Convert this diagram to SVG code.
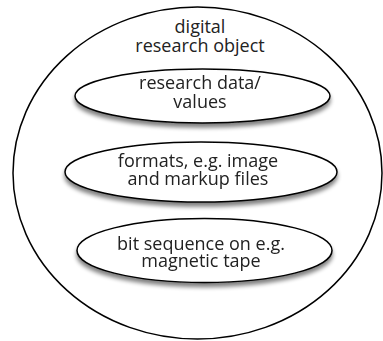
<svg xmlns="http://www.w3.org/2000/svg" width="383" height="341" viewBox="0 0 383 341">
<defs>
<filter id="sh" x="-10%" y="-20%" width="120%" height="160%">
<feGaussianBlur in="SourceAlpha" stdDeviation="2"/>
<feOffset dx="0" dy="4" result="b"/>
<feComponentTransfer><feFuncA type="linear" slope="0.5"/></feComponentTransfer>
<feMerge><feMergeNode/><feMergeNode in="SourceGraphic"/></feMerge>
</filter>
<style>
.e{fill:#fff;stroke:#000;stroke-width:1.5}
.t{font-family:"Open Sans","Liberation Sans",sans-serif;font-size:18px;fill:#222;text-anchor:middle}
</style>
</defs>
<rect width="383" height="341" fill="#fff"/>
<g id="outer">
<ellipse class="e" cx="197.5" cy="173" rx="184.5" ry="166"/>
<text class="t" x="200" y="33">digital</text>
<text class="t" x="200" y="52">research object</text>
</g>
<g id="data" filter="url(#sh)">
<ellipse class="e" cx="202.5" cy="96" rx="127.5" ry="27"/>
<text class="t" x="200" y="89">research data/</text>
<text class="t" x="200" y="108">values</text>
</g>
<g id="formats" filter="url(#sh)">
<ellipse class="e" cx="201" cy="172" rx="136" ry="30"/>
<text class="t" x="198" y="167">formats, e.g. image</text>
<text class="t" x="198" y="185">and markup files</text>
</g>
<g id="bits" filter="url(#sh)">
<ellipse class="e" cx="204.5" cy="250.5" rx="127.5" ry="32"/>
<text class="t" x="201" y="250">bit sequence on e.g.</text>
<text class="t" x="201" y="267">magnetic tape</text>
</g>
<g id="connectors"/>
</svg>
